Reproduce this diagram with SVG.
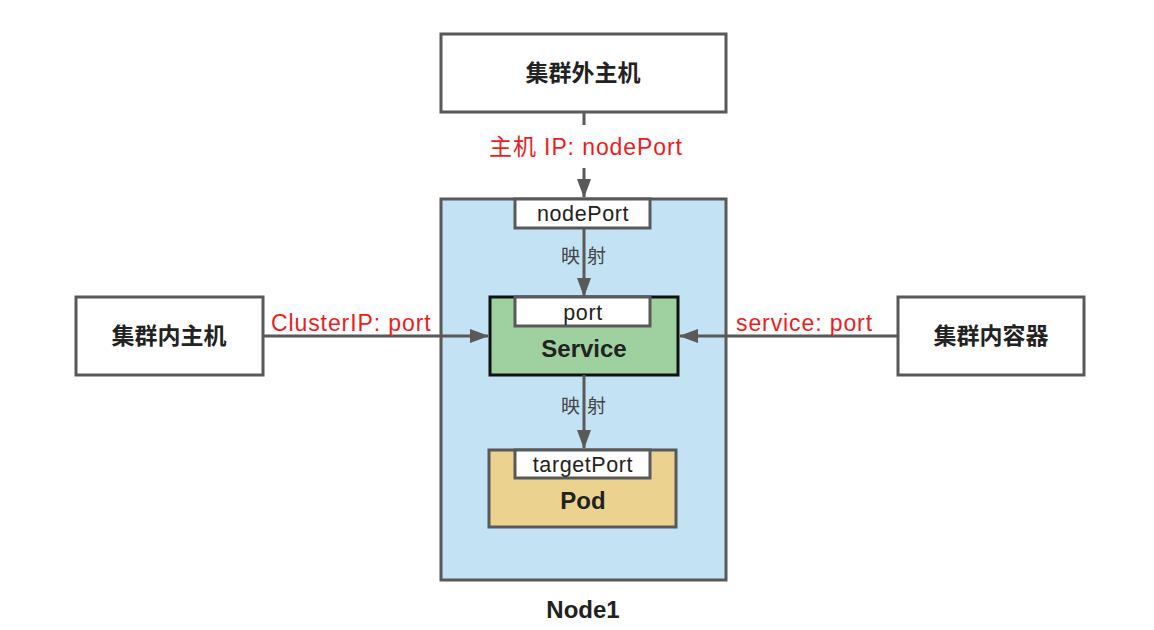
<svg xmlns="http://www.w3.org/2000/svg" width="1154" height="630" viewBox="0 0 1154 630">
<style>
.box{fill:#fff;stroke:#595959;stroke-width:3}
.port{fill:#fff;stroke:#595959;stroke-width:3}
.cn{font-family:"Noto Sans CJK SC",sans-serif;font-size:23px;font-weight:700;fill:#222;text-anchor:middle}
.lat{font-family:"Liberation Sans","Noto Sans CJK SC",sans-serif;font-size:21.5px;fill:#222;text-anchor:middle;letter-spacing:0.6px}
.bold{font-family:"Liberation Sans",sans-serif;font-size:24px;font-weight:700;fill:#222;text-anchor:middle}
.red{font-family:"Liberation Sans","Noto Sans CJK SC",sans-serif;font-size:23px;fill:#f01c1c;letter-spacing:0.9px}
.map{font-family:"Noto Sans CJK SC",sans-serif;font-size:19px;fill:#444}
.line{stroke:#595959;stroke-width:3;fill:none}
</style>
<defs>
<marker id="ah" markerUnits="userSpaceOnUse" markerWidth="20" markerHeight="14" refX="18" refY="7" orient="auto">
<path d="M0,0 L19,7 L0,14 z" fill="#595959"/>
</marker>
</defs>
<rect width="1154" height="630" fill="#fff"/>
<g id="node1">
<rect x="441" y="199" width="285" height="381" fill="#c3e2f4" stroke="#595959" stroke-width="3"/>
<text class="bold" x="583" y="618" font-size="22.5">Node1</text>
</g>
<g id="outer-host">
<rect class="box" x="441" y="34" width="285" height="78"/>
<text class="cn" x="583" y="81">集群外主机</text>
</g>
<g id="nodeport">
<rect class="port" x="515" y="199" width="135" height="29"/>
<text class="lat" x="583" y="221">nodePort</text>
</g>
<g id="service">
<rect x="490" y="297" width="188" height="78" fill="#9fd1a0" stroke="#111" stroke-width="3"/>
<rect class="port" x="515" y="297" width="135" height="29"/>
<text class="lat" x="583" y="320">port</text>
<text class="bold" x="584" y="357">Service</text>
</g>
<g id="pod">
<rect x="489" y="450" width="187" height="77" fill="#ebd38f" stroke="#595959" stroke-width="3"/>
<rect class="port" x="515" y="450" width="135" height="28"/>
<text class="lat" x="583" y="472">targetPort</text>
<text class="bold" x="583" y="509">Pod</text>
</g>
<g id="inner-host">
<rect class="box" x="76" y="297" width="187" height="78"/>
<text class="cn" x="169" y="344">集群内主机</text>
</g>
<g id="inner-container">
<rect class="box" x="898" y="297" width="186" height="78"/>
<text class="cn" x="991" y="344">集群内容器</text>
</g>
<g id="connectors">
<line class="line" x1="584" y1="112" x2="584" y2="125"/>
<line class="line" x1="584" y1="168" x2="584" y2="197" marker-end="url(#ah)"/>
<text class="red" x="489" y="155">主机 IP: nodePort</text>
<line class="line" x1="584" y1="228" x2="584" y2="296" marker-end="url(#ah)"/>
<text class="map" x="561" y="263">映</text>
<text class="map" x="587" y="263">射</text>
<line class="line" x1="584" y1="375" x2="584" y2="448" marker-end="url(#ah)"/>
<text class="map" x="561" y="413">映</text>
<text class="map" x="587" y="413">射</text>
<line class="line" x1="263" y1="336" x2="488" y2="336" marker-end="url(#ah)"/>
<text class="red" x="271" y="331">ClusterIP: port</text>
<line class="line" x1="898" y1="336" x2="680" y2="336" marker-end="url(#ah)"/>
<text class="red" x="736" y="331">service: port</text>
</g>
</svg>
